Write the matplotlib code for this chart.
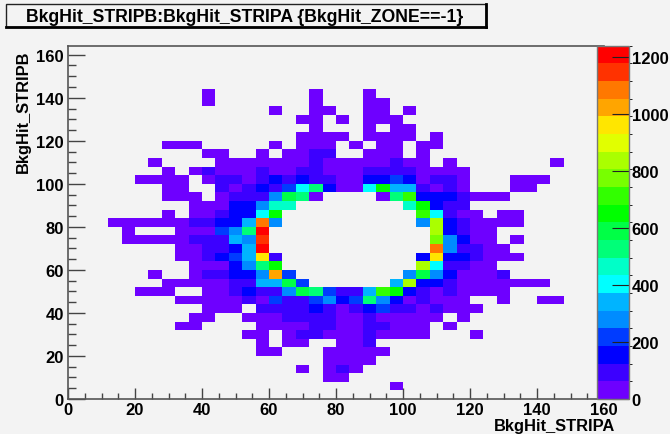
"""
2D hit map of BkgHit_STRIPB vs BkgHit_STRIPA, ROOT colz look.
"""

import matplotlib
matplotlib.use("Agg")
import matplotlib.pyplot as plt
import numpy as np
from matplotlib.colors import BoundaryNorm, ListedColormap
from matplotlib.lines import Line2D
from matplotlib.patches import Rectangle
from matplotlib.ticker import MultipleLocator

TITLE = "BkgHit_STRIPB:BkgHit_STRIPA {BkgHit_ZONE==-1}"
X_LABEL = "BkgHit_STRIPA"
Y_LABEL = "BkgHit_STRIPB"

BIN_WIDTH = 4
N_COLS = 40
N_ROWS = 41
Z_MAX = 1240

# first filled column of each row, bottom row first
row_starts = [
    0, 24, 19, 17, 19, 14, 14, 13, 8, 9, 10, 8, 5, 7, 6, 9, 8, 8,
    4, 4, 3, 7, 9, 7, 7, 5, 7, 6, 10, 7, 17, 18, 17, 15, 10, 10,
]

# counts per bin
row_counts = [
    [],
    [30],
    [30, 30],
    [30, 0, 30, 90, 30],
    [30, 30, 30, 30],
    [30, 30, 0, 0, 0, 30, 30, 30, 30, 30],
    [30, 0, 30, 30, 0, 0, 30, 30, 90],
    [30, 30, 0, 30, 90, 90, 30, 30, 30, 90, 30, 30, 30, 30, 0, 0, 0, 30],
    [30, 30, 0, 0, 0, 0, 30, 30, 30, 30, 90, 90, 30, 30, 90, 90, 30, 30, 30, 0, 30],
    [30, 30, 0, 0, 30, 30, 30, 90, 90, 90, 90, 30, 30, 90, 30, 30, 30, 30, 30, 0, 30],
    [30, 30, 30, 0, 90, 90, 90, 90, 150, 90, 30, 90, 150, 220, 90, 90, 30, 90, 30, 30, 30],
    [30, 30, 30, 30, 30, 90, 30, 220, 90, 90, 220, 280, 150, 220, 530, 280, 150, 30, 90,
     30, 30, 30, 0, 0, 30, 0, 0, 30, 30],
    [30, 30, 30, 0, 0, 30, 30, 90, 150, 90, 90, 280, 590, 530, 220, 90, 90, 340, 710, 650,
     150, 90, 30, 90, 30, 30, 30, 30],
    [30, 30, 30, 30, 30, 90, 90, 340, 340, 590, 220, 0, 0, 0, 0, 0, 0, 340, 840, 150, 150,
     90, 30, 30, 30, 30, 30, 30, 30],
    [30, 0, 0, 30, 90, 90, 150, 150, 280, 1020, 220, 0, 0, 0, 0, 0, 0, 0, 0, 280, 590, 280,
     150, 30, 30, 30, 90],
    [30, 30, 30, 150, 280, 530, 650, 0, 0, 0, 0, 0, 0, 0, 0, 0, 0, 840, 400, 90, 90, 30, 30],
    [30, 30, 90, 150, 220, 340, 960, 90, 0, 0, 0, 0, 0, 0, 0, 0, 0, 0, 150, 960, 150, 150,
     90, 30, 30, 30],
    [30, 30, 90, 90, 150, 340, 1210, 0, 0, 0, 0, 0, 0, 0, 0, 0, 0, 0, 0, 1085, 280, 90,
     90, 30, 30],
    [30, 30, 30, 30, 30, 90, 90, 90, 340, 280, 1150, 0, 0, 0, 0, 0, 0, 0, 0, 0, 0, 0, 0,
     775, 280, 150, 30, 30, 0, 30],
    [30, 0, 0, 0, 30, 30, 30, 220, 280, 530, 1210, 0, 0, 0, 0, 0, 0, 0, 0, 0, 0, 0, 0,
     840, 150, 90, 30, 30],
    [30, 30, 30, 30, 30, 30, 90, 90, 150, 150, 340, 1085, 280, 0, 0, 0, 0, 0, 0, 0, 0, 0, 0,
     280, 840, 150, 90, 30, 30, 30, 30],
    [30, 0, 30, 30, 90, 150, 150, 400, 650, 0, 0, 0, 0, 0, 0, 0, 0, 0, 0, 710, 400, 90, 30,
     30, 0, 30, 30],
    [30, 30, 30, 150, 150, 280, 465, 465, 0, 0, 0, 0, 0, 0, 0, 0, 465, 650, 150, 90, 90],
    [30, 30, 30, 0, 30, 90, 90, 90, 280, 590, 530, 30, 0, 0, 0, 0, 30, 530, 710, 150, 150,
     150, 90, 30, 30, 30],
    [30, 30, 0, 0, 90, 30, 90, 150, 90, 220, 400, 530, 150, 30, 30, 400, 650, 340, 340, 90,
     30, 90, 30, 0, 0, 0, 30, 30],
    [30, 30, 30, 30, 0, 30, 90, 90, 30, 90, 150, 90, 150, 90, 90, 30, 30, 150, 150, 220,
     150, 30, 90, 90, 30, 0, 0, 0, 30, 30, 30],
    [30, 0, 30, 90, 30, 30, 30, 90, 30, 30, 90, 90, 30, 30, 30, 90, 90, 90, 90, 30, 30, 30, 30],
    [30, 0, 0, 0, 0, 30, 30, 30, 30, 30, 30, 30, 90, 30, 30, 30, 30, 30, 90, 30, 30, 0, 30,
     0, 0, 0, 0, 0, 0, 0, 30],
    [30, 30, 0, 0, 30, 0, 30, 30, 90, 90, 0, 0, 30, 30, 30, 0, 30],
    [30, 30, 30, 0, 0, 0, 0, 0, 30, 0, 30, 30, 30, 0, 30, 0, 30, 30, 0, 30, 30],
    [30, 30, 30, 30, 0, 30, 30, 30, 30, 0, 30],
    [30, 0, 0, 0, 30, 0, 30, 30],
    [30, 30, 0, 30, 0, 30, 30, 30],
    [30, 0, 0, 30, 30, 0, 0, 30, 30, 0, 30],
    [30, 0, 0, 0, 0, 0, 0, 0, 30, 0, 0, 0, 30, 30],
    [30, 0, 0, 0, 0, 0, 0, 0, 30, 0, 0, 0, 30],
]

# ROOT rainbow palette, 20 contours
palette = [
    "#6e00ff", "#3c00ff", "#0000ff", "#003cff", "#008cff",
    "#00b4ff", "#00ffff", "#00ffc8", "#00ff78", "#00ff46",
    "#00ff00", "#32ff00", "#78ff00", "#aaff00", "#e1ff00",
    "#ffe600", "#ffa500", "#ff7800", "#ff3200", "#ff0000",
]

x_ticks = [0, 20, 40, 60, 80, 100, 120, 140, 160]
y_ticks = [0, 20, 40, 60, 80, 100, 120, 140, 160]
z_ticks = [0, 200, 400, 600, 800, 1000, 1200]

BG = "#f3f3f3"
W, H = 670, 435


def px_box(left, top, right, bottom):
    """Figure-fraction rect from pixel edges (y measured from the top)."""
    return [left / W, 1 - bottom / H, (right - left) / W, (bottom - top) / H]


grid = np.zeros((N_ROWS, N_COLS))
for j, (start, vals) in enumerate(zip(row_starts, row_counts)):
    grid[j, start:start + len(vals)] = vals

fig = plt.figure(figsize=(W / 100, H / 100), dpi=100, facecolor=BG)
plt.rcParams["font.family"] = ["Liberation Sans", "DejaVu Sans"]

ax = fig.add_axes(px_box(68, 46.7, 604, 400), facecolor=BG)
x_edges = np.arange(N_COLS + 1) * BIN_WIDTH
y_edges = np.arange(N_ROWS + 1) * BIN_WIDTH
cmap = ListedColormap(palette)
norm = BoundaryNorm(np.linspace(0, Z_MAX, len(palette) + 1), cmap.N)
mesh = ax.pcolormesh(x_edges, y_edges, np.ma.masked_equal(grid, 0), cmap=cmap, norm=norm)

ax.set_xlim(0, 160)
ax.set_ylim(0, 164.2)
ax.set_xticks(x_ticks)
ax.set_yticks(y_ticks)
ax.xaxis.set_minor_locator(MultipleLocator(5))
ax.yaxis.set_minor_locator(MultipleLocator(5))
ax.tick_params(axis="x", which="major", direction="in", length=8, width=1, color="#444444",
               labelsize=12, pad=2)
ax.tick_params(axis="x", which="minor", direction="in", length=4, width=1, color="#444444")
ax.tick_params(axis="y", which="major", direction="in", length=12, width=1, color="#444444",
               labelsize=12, pad=3)
ax.tick_params(axis="y", which="minor", direction="in", length=6, width=1, color="#444444")
for lab in ax.get_xticklabels() + ax.get_yticklabels():
    lab.set_fontweight("bold")
ax.spines["right"].set_visible(False)
for side in ["left", "top", "bottom"]:
    ax.spines[side].set_color("#555555")
    ax.spines[side].set_linewidth(1.2)

cax = fig.add_axes(px_box(597, 46.7, 629, 400), zorder=5)
cbar = fig.colorbar(mesh, cax=cax, spacing="proportional", ticks=z_ticks)
cbar.ax.tick_params(direction="in", length=12, width=0.8, color="#222222", labelsize=12, pad=2)
for lab in cbar.ax.get_yticklabels():
    lab.set_fontweight("bold")
cbar.outline.set_edgecolor("#777777")
cbar.outline.set_linewidth(1)

# title box with ROOT drop shadow
x0, y0, bw, bh = px_box(6, 5, 486, 28)
fig.add_artist(Rectangle((x0, y0), bw, bh, transform=fig.transFigure, facecolor=BG,
                         edgecolor="#222222", linewidth=1))
fig.add_artist(Line2D([x0 + bw, x0 + bw], [y0, y0 + bh], transform=fig.transFigure,
                      color="black", linewidth=2))
fig.add_artist(Line2D([x0, x0 + bw], [y0, y0], transform=fig.transFigure,
                      color="black", linewidth=2))
fig.text(245 / W, 1 - 17 / H, TITLE, ha="center", va="center", fontsize=12.7, fontweight="bold")

fig.text(615 / W, 1 - 427 / H, X_LABEL, ha="right", va="center", fontsize=11.9, fontweight="bold")
fig.text(23 / W, 1 - 112 / H, Y_LABEL, ha="center", va="center", rotation=90,
         fontsize=11.9, fontweight="bold")

fig.savefig("out.png", dpi=100, facecolor=BG)
